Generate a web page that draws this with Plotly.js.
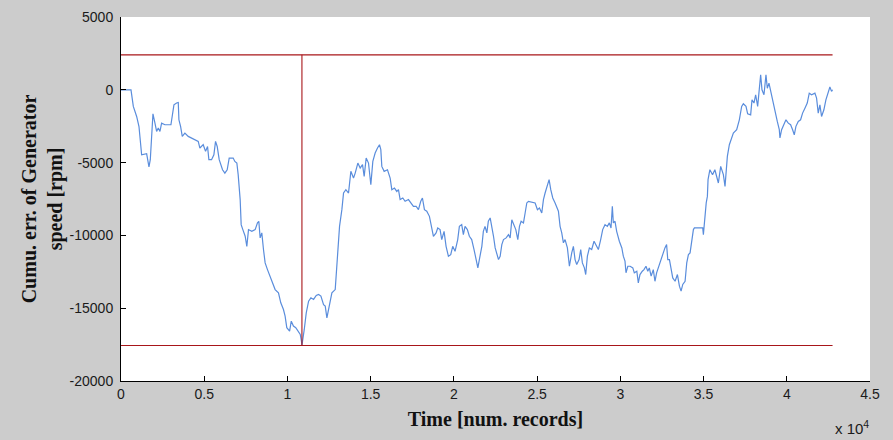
<!DOCTYPE html>
<html>
<head>
<meta charset="utf-8">
<script src="https://cdn.plot.ly/plotly-3.0.1.min.js"></script>
<style>
  html, body { margin: 0; padding: 0; background: #cccccc; }
  #chart { width: 893px; height: 440px; }
</style>
</head>
<body>
<div id="chart"></div>
<script>
// Time stamps (record index) of the cumulative generator speed error
const recordIndex = [
  0, 600, 740, 940, 1080, 1180, 1240, 1540, 1680, 1760, 1840, 1920, 2040, 2140, 2240, 2340, 2440, 2640, 3000, 3080,
  3180, 3340, 3440, 3480, 3580, 3680, 3840, 4040, 4240, 4480, 4640, 4740, 4940, 5080, 5200, 5280, 5440, 5580, 5680, 5780,
  5900, 6100, 6240, 6380, 6500, 6740, 6840, 6960, 7040, 7160, 7220, 7320, 7460, 7560, 7660, 7860, 8060, 8200, 8280, 8360,
  8460, 8560, 8660, 8800, 8960, 9120, 9260, 9460, 9600, 9760, 9860, 9960, 10130, 10230, 10360, 10500, 10630, 10770, 10850, 10870,
  11010, 11130, 11270, 11410, 11570, 11730, 11870, 12010, 12170, 12270, 12370, 12470, 12570, 12670, 12870, 12970, 13070, 13130, 13270, 13370,
  13510, 13670, 13810, 13970, 14070, 14230, 14370, 14510, 14610, 14730, 14870, 15010, 15130, 15270, 15410, 15530, 15610, 15670, 15810, 16010,
  16170, 16270, 16430, 16570, 16670, 16770, 16930, 17070, 17270, 17410, 17570, 17730, 17870, 18010, 18110, 18230, 18370, 18530, 18670, 18770,
  18930, 19030, 19170, 19270, 19410, 19530, 19670, 19810, 19930, 20070, 20230, 20330, 20470, 20570, 20670, 20810, 20930, 21070, 21210, 21340,
  21440, 21530, 21680, 21770, 21870, 21980, 22070, 22180, 22280, 22380, 22480, 22580, 22680, 22780, 22880, 22980, 23140, 23280, 23380, 23480,
  23580, 23720, 23840, 23940, 24040, 24180, 24280, 24380, 24480, 24680, 24880, 25020, 25140, 25280, 25380, 25480, 25580, 25720, 25820, 25940,
  26080, 26180, 26280, 26380, 26480, 26580, 26680, 26820, 26940, 27080, 27180, 27280, 27380, 27520, 27620, 27720, 27840, 27920, 28020, 28140,
  28280, 28420, 28540, 28680, 28820, 28940, 29080, 29220, 29340, 29440, 29520, 29580, 29680, 29780, 29940, 30090, 30180, 30280, 30340, 30450,
  30590, 30750, 30840, 30990, 31080, 31180, 31320, 31420, 31540, 31650, 31740, 31850, 31980, 32080, 32180, 32280, 32390, 32480, 32580, 32680,
  32780, 32850, 32950, 33050, 33150, 33290, 33430, 33550, 33650, 33750, 33890, 33990, 34090, 34190, 34290, 34390, 34450, 34950, 34990, 35060,
  35160, 35230, 35270, 35380, 35540, 35680, 35890, 36030, 36190, 36290, 36430, 36550, 36690, 36790, 36990, 37150, 37290, 37390, 37550, 37650,
  37830, 37910, 38030, 38130, 38250, 38350, 38430, 38510, 38630, 38750, 38830, 38930, 39030, 39150, 39290, 39430, 39550, 39590, 39690, 39830,
  39950, 40090, 40230, 40350, 40450, 40550, 40690, 40830, 40950, 41090, 41230, 41350, 41490, 41690, 41790, 41890, 41990, 42090, 42230, 42350,
  42490, 42590, 42690, 42750
];

// Cumulative error of generator speed [rpm]
const cumulativeError = [
  0, 0, -1140, -1830, -2520, -3890, -4460, -4390, -5300, -4800, -2740, -1650, -2290, -2860, -2630, -2860, -2290, -2400, -2400, -1720,
  -1030, -910, -870, -2060, -2520, -3200, -2970, -3200, -3320, -3430, -3540, -4000, -3770, -4230, -3890, -4800, -4800, -4460, -3540, -3890,
  -4800, -5490, -5720, -5490, -4690, -4690, -4920, -5030, -5830, -7540, -9260, -9600, -10060, -10750, -9600, -9720, -9600, -9140, -9030, -10170,
  -9830, -10970, -11890, -12350, -12800, -13260, -13720, -13950, -14630, -15090, -15550, -16340, -16570, -15890, -16230, -16340, -16570, -16800, -17330, -17560,
  -16460, -15320, -14520, -14290, -14400, -14130, -14060, -14170, -14750, -14860, -15660, -15090, -14520, -13950, -13720, -12000, -10970, -9380, -8230, -7090,
  -6860, -7090, -5600, -6060, -5720, -5030, -5370, -5140, -5950, -4690, -5030, -6520, -4920, -4340, -4000, -3770, -4110, -5260, -5600, -5490,
  -6060, -6860, -6750, -6980, -6860, -7540, -7430, -7660, -7540, -7770, -8000, -8000, -8230, -7660, -7430, -8230, -8340, -8690, -9600, -10060,
  -9830, -9490, -9600, -10290, -9720, -10750, -11430, -11320, -10750, -11090, -10290, -9380, -9260, -9950, -9380, -9600, -10060, -10290, -10970, -11660,
  -12230, -11660, -10750, -9720, -9380, -9830, -9030, -8800, -9380, -10060, -10860, -11200, -11660, -11430, -10630, -10290, -10170, -9950, -10170, -8920,
  -9260, -9600, -10290, -9380, -9030, -9140, -8460, -7770, -7660, -7730, -7770, -8230, -8120, -8460, -7540, -7090, -6630, -6170, -6860, -7430,
  -7770, -8120, -8340, -9380, -9830, -10510, -10290, -10860, -12120, -11200, -10750, -11660, -12000, -11660, -10970, -11890, -12230, -12690, -11430, -10860,
  -10970, -10400, -10630, -10970, -10290, -9600, -9260, -9380, -9140, -9490, -8000, -9140, -9030, -9720, -10400, -10860, -11430, -11770, -12570, -12120,
  -12120, -12230, -12570, -12460, -13260, -12690, -12460, -12350, -12120, -12460, -12230, -12800, -12350, -13150, -12570, -12230, -11770, -11430, -11090, -10860,
  -10630, -11660, -11660, -12350, -12920, -13150, -12690, -13490, -13830, -13370, -13150, -11890, -11320, -11200, -10400, -9600, -9490, -9490, -9950, -8920,
  -7770, -7320, -6170, -5490, -5830, -5490, -6400, -5260, -5830, -6630, -4570, -3770, -3310, -2970, -2740, -2060, -1140, -960, -1140, -1650,
  -1720, -690, -910, -340, -1140, 0, 1030, 0, -340, 1030, 110, 460, -110, -800, -1370, -2170, -2740, -3310, -2740, -2400,
  -2060, -2290, -2400, -2740, -3090, -2510, -2170, -2060, -1600, -1260, -910, -230, -340, -230, -570, -1600, -1030, -1830, -1370, -690,
  -230, 190, -110, 0
];

// Reference limits: upper / lower bound lines and the record where the minimum occurs
const upperLimit = 2400;
const lowerLimit = -17560;
const minimumRecord = 10870;
const lastRecord = 42750;

// Axis ticks
const xTickValues = [0, 5000, 10000, 15000, 20000, 25000, 30000, 35000, 40000, 45000];
const xTickLabels = ['0', '0.5', '1', '1.5', '2', '2.5', '3', '3.5', '4', '4.5'];
const yTickValues = [5000, 0, -5000, -10000, -15000, -20000];
const yTickLabels = ['5000', '0', '-5000', '-10000', '-15000', '-20000'];

const limitColor = '#a8161a';
const traces = [
  {
    x: recordIndex, y: cumulativeError, type: 'scatter', mode: 'lines',
    line: { color: '#5a8ddc', width: 1.2 }, hoverinfo: 'skip'
  },
  {
    x: [0, lastRecord], y: [upperLimit, upperLimit], type: 'scatter', mode: 'lines',
    line: { color: limitColor, width: 1.1 }, hoverinfo: 'skip'
  },
  {
    x: [0, lastRecord], y: [lowerLimit, lowerLimit], type: 'scatter', mode: 'lines',
    line: { color: limitColor, width: 1.1 }, hoverinfo: 'skip'
  },
  {
    x: [minimumRecord, minimumRecord], y: [lowerLimit, upperLimit], type: 'scatter', mode: 'lines',
    line: { color: limitColor, width: 1.1 }, hoverinfo: 'skip'
  }
];

const tickFont = { family: 'Liberation Sans, Arial, sans-serif', size: 14, color: '#1a1a1a' };
const titleFont = { family: 'Liberation Serif, Times New Roman, serif', size: 20, color: '#111', weight: 'bold' };

const layout = {
  width: 893, height: 440,
  paper_bgcolor: '#cccccc', plot_bgcolor: '#ffffff',
  margin: { l: 121, r: 23, t: 17, b: 59 },
  showlegend: false,
  xaxis: {
    range: [0, 45000], tickmode: 'array', tickvals: xTickValues, ticktext: xTickLabels,
    ticks: 'inside', ticklen: 5, tickcolor: '#000', tickwidth: 1,
    showline: true, linecolor: '#000', linewidth: 1, mirror: false,
    showgrid: false, zeroline: false, tickfont: tickFont,
    title: { text: 'Time [num. records]', font: titleFont, standoff: 11 }
  },
  yaxis: {
    range: [-20000, 5000], tickmode: 'array', tickvals: yTickValues, ticktext: yTickLabels,
    ticks: 'inside', ticklen: 5, tickcolor: '#000', tickwidth: 1,
    showline: true, linecolor: '#000', linewidth: 1, mirror: false,
    showgrid: false, zeroline: false, tickfont: tickFont, ticklabelstandoff: 4,
    title: { text: 'Cumu. err. of Generator<br>speed [rpm]', font: titleFont, standoff: 1 }
  },
  annotations: [
    {
      xref: 'paper', yref: 'paper', x: 0.951, y: -0.097, xanchor: 'left', yanchor: 'top',
      text: 'x 10<sup>4</sup>', showarrow: false,
      font: { family: 'Liberation Sans, Arial, sans-serif', size: 15, color: '#1a1a1a' }
    }
  ]
};

Plotly.newPlot('chart', traces, layout, { staticPlot: true, displayModeBar: false });
</script>
</body>
</html>
